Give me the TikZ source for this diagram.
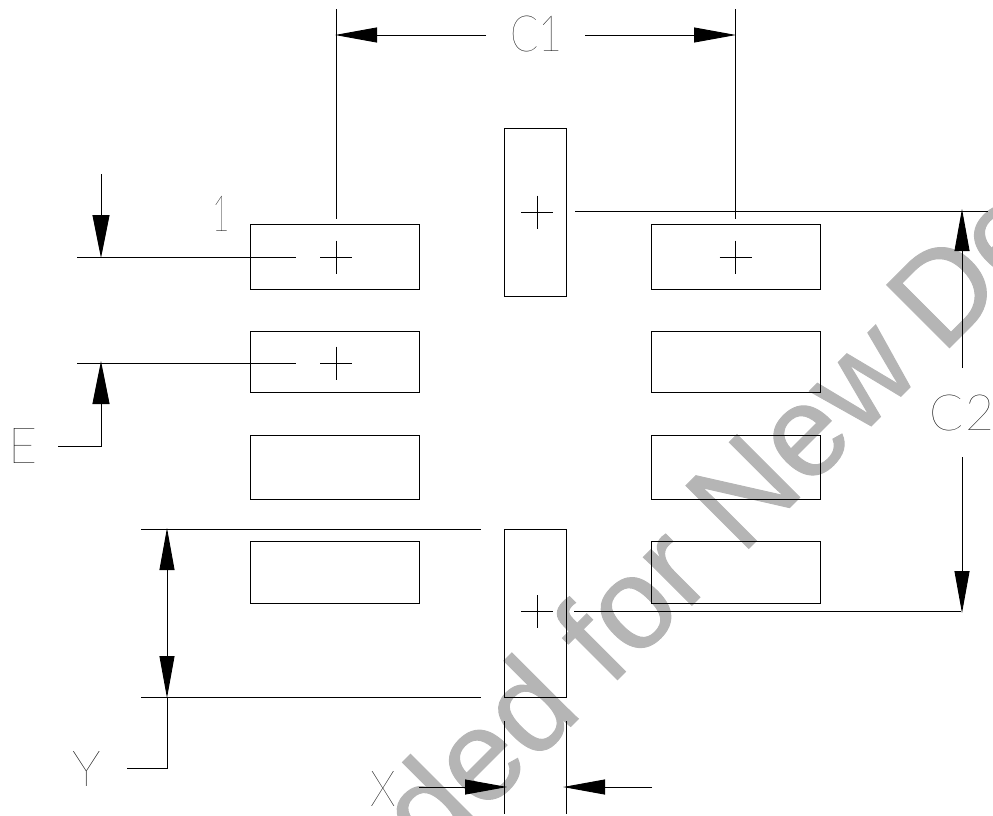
\documentclass[tikz,border=0pt]{standalone}
\usepackage{fontspec}
\usetikzlibrary{arrows.meta}
\setmainfont{Liberation Sans}
\newfontfamily\wmfont[FakeBold=0.8]{Liberation Sans}
\newfontfamily\cadfont[UprightFont={* Thin}]{Lato}
\definecolor{wmgray}{HTML}{B5B5B5}
\tikzset{
  pad/.style={draw=black,line width=0.9pt,inner sep=0pt,outer sep=0pt,fill=none,rectangle},
  padwide/.style={pad,minimum width=169pt},
  padtall/.style={pad,minimum width=62pt,minimum height=168pt},
  dimline/.style={draw=black,line width=0.9pt},
  tipwide/.style={-{Triangle[length=42pt,width=15pt,black]}},
  tiptall/.style={-{Triangle[length=43pt,width=17pt,black]}},
  lbl/.style={inner sep=0pt,outer sep=0pt,font=\cadfont\fontsize{50}{50}\selectfont,text=black},
  watermark/.style={inner sep=0pt,outer sep=0pt,anchor=base west,rotate=45,text=wmgray,font=\wmfont\fontsize{129}{129}\selectfont}
}
\newcommand{\plusmark}[2]{\draw[dimline] (#1-16,#2) -- (#1+16,#2) (#1,#2-16.5) -- (#1,#2+16.5);}
\begin{document}
\begin{tikzpicture}[x=1pt,y=-1pt]
\useasboundingbox (0,0) rectangle (993,815);
\begin{scope}
\clip (0,0) rectangle (993,815);
\node[watermark] (wm) at (432,865) {ded for New\kern-10pt\ De};
\end{scope}
% pads
\node[padwide,minimum height=65pt] (L1) at (334.5,256.5) {};
\node[padwide,minimum height=61.5pt] (L2) at (334.5,361.75) {};
\node[padwide,minimum height=64pt] (L3) at (334.5,467) {};
\node[padwide,minimum height=61.5pt] (L4) at (334.5,572.5) {};
\node[padwide,minimum height=65pt] (R1) at (735.5,256.5) {};
\node[padwide,minimum height=61.5pt] (R2) at (735.5,361.75) {};
\node[padwide,minimum height=64pt] (R3) at (735.5,467) {};
\node[padwide,minimum height=61.5pt] (R4) at (735.5,572.5) {};
\node[padtall] (T) at (535,212) {};
\node[padtall] (B) at (535,613) {};
% crosses
\plusmark{336}{257}
\plusmark{336}{363}
\plusmark{735.5}{257}
\plusmark{537}{212}
\plusmark{537}{611.5}
% labels
\node[lbl] (lC1) at (536.5,34) {\scalebox{0.83}[1]{C1}};
\node[lbl] (lC2) at (962,412.5) {C\kern2pt 2};
\node[lbl] (lone) at (221,214) {\scalebox{0.6}[1]{1}};
\node[lbl] (lE) at (23,446) {E};
\node[lbl] (lY) at (87,768.5) {Y};
\node[lbl] (lX) at (383,788.5) {\scalebox{0.85}[1]{X}};
% C1 dimension
\coordinate (a1) at (336,9); \coordinate (a2) at (336,219);
\coordinate (b1) at (735,9); \coordinate (b2) at (735,219);
\coordinate (c1l) at (486,35); \coordinate (c1tl) at (335,35);
\coordinate (c1r) at (585,35); \coordinate (c1tr) at (736,35);
\draw[dimline] (a1) -- (a2);
\draw[dimline] (b1) -- (b2);
\draw[dimline,tipwide] (c1l) -- (c1tl);
\draw[dimline,tipwide] (c1r) -- (c1tr);
% C2 dimension
\coordinate (d1) at (575,211); \coordinate (d2) at (988,211);
\coordinate (e1) at (574,611.5); \coordinate (e2) at (961,611.5);
\coordinate (c2u) at (962,368); \coordinate (c2tu) at (962,209);
\coordinate (c2d) at (962,457); \coordinate (c2td) at (962,613);
\draw[dimline] (d1) -- (d2);
\draw[dimline] (e1) -- (e2);
\draw[dimline,tipwide] (c2u) -- (c2tu);
\draw[dimline,tipwide] (c2d) -- (c2td);
% E dimension
\coordinate (f1) at (77,257); \coordinate (f2) at (296,257);
\coordinate (g1) at (77,363); \coordinate (g2) at (296,363);
\coordinate (h1) at (101,174); \coordinate (h2) at (101,258);
\coordinate (i1) at (58,446); \coordinate (i2) at (101,446); \coordinate (i3) at (101,361);
\draw[dimline] (f1) -- (f2);
\draw[dimline] (g1) -- (g2);
\draw[dimline,tiptall] (h1) -- (h2);
\draw[dimline,tiptall] (i1) -- (i2) -- (i3);
% Y dimension
\coordinate (j1) at (141,529); \coordinate (j2) at (481,529);
\coordinate (k1) at (141,697); \coordinate (k2) at (481,697);
\coordinate (m0) at (167,613); \coordinate (m1) at (167,528); \coordinate (m2) at (167,698);
\coordinate (n0) at (167,697); \coordinate (n1) at (167,768); \coordinate (n2) at (127,768);
\draw[dimline] (j1) -- (j2);
\draw[dimline] (k1) -- (k2);
\draw[dimline,tipwide] (m0) -- (m1);
\draw[dimline,tipwide] (m0) -- (m2);
\draw[dimline] (n0) -- (n1) -- (n2);
% X dimension
\coordinate (p1) at (504.5,721); \coordinate (p2) at (504.5,814);
\coordinate (q1) at (566,721); \coordinate (q2) at (566,814);
\coordinate (r1) at (419,787); \coordinate (r2) at (507,787);
\coordinate (s1) at (652,787); \coordinate (s2) at (563,787);
\draw[dimline] (p1) -- (p2);
\draw[dimline] (q1) -- (q2);
\draw[dimline,tipwide] (r1) -- (r2);
\draw[dimline,tipwide] (s1) -- (s2);
\end{tikzpicture}
\end{document}
